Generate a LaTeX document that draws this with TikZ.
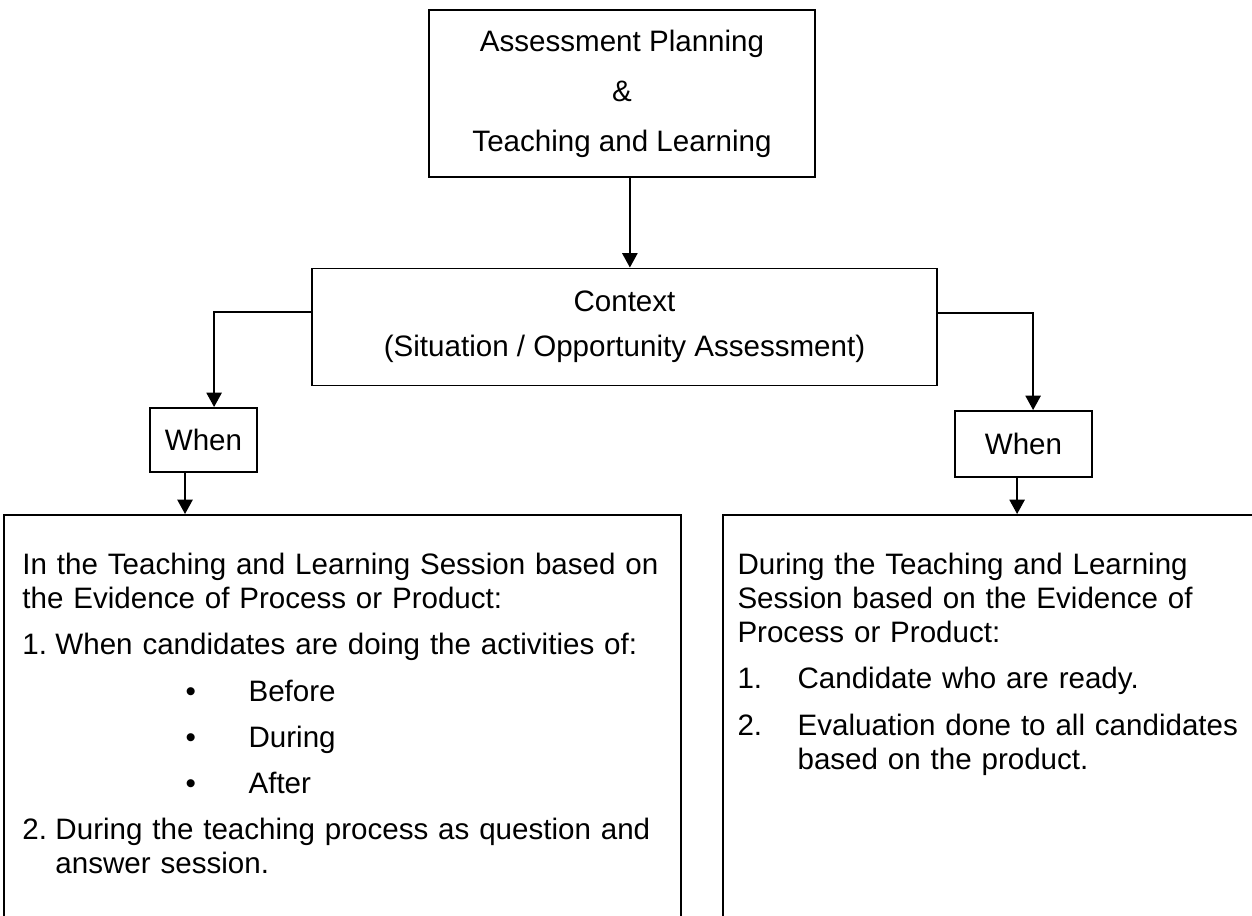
\documentclass[tikz,border=0pt]{standalone}
\usepackage{fontspec}
\setmainfont{Liberation Sans}
\usepackage{tikz}
\usetikzlibrary{arrows.meta}

\newcommand{\listnum}[2]{\par\hangindent=#1\hangafter=1\makebox[#1][l]{#2}}
\newcommand{\listdot}[1]{\par\hspace*{66.2pt}\makebox[25.6pt][l]{\textbullet}#1}

\begin{document}
\begin{tikzpicture}[x=0.406pt, y=-0.406pt,
    box/.style={draw, line width=0.8pt, rectangle, inner sep=0pt, align=center,
      font=\fontsize{12}{20.3}\selectfont},
    panel/.style={draw, line width=0.8pt, rectangle, inner sep=0pt, anchor=north west},
    txt/.style={anchor=north west, inner sep=0pt, align=left,
      font=\fontsize{12}{13.8}\selectfont},
    arr/.style={line width=0.6pt, -{Triangle[width=6.2pt,length=5.8pt]}}]
  \clip (0,0) rectangle (1252,916);

  \node[box, minimum width=157.1pt, minimum height=67.8pt] (plan) at (622,93.5)
    {Assessment Planning\\ \&\\ Teaching and Learning};
  \node[box, minimum width=253.8pt, minimum height=47.5pt,
    font=\fontsize{12}{18.3}\selectfont] (context) at (624.5,327)
    {Context\\ (Situation / Opportunity Assessment)};
  \node[box, minimum width=43.4pt, minimum height=26pt] (whenL) at (203.5,440) {When};
  \node[box, minimum width=55.6pt, minimum height=26.8pt] (whenR) at (1023.5,444) {When};

  \node[panel, minimum width=274.9pt, minimum height=170.5pt] (leftpanel) at (3,514) {};
  \node[panel, minimum width=219.2pt, minimum height=170.5pt] (rightpanel) at (722,514) {};

  \node[txt, text width=270pt] (leftText) at (22,553) {\parindent=0pt\parskip=4.9pt
    In the Teaching and Learning Session based on\newline the Evidence of Process or Product:
    \listnum{13.4pt}{1.}When candidates are doing the activities of:
    \listdot{Before}
    \listdot{During}
    \listdot{After}
    \listnum{13.4pt}{2.}During the teaching process as question and\newline answer session.\par};
  \node[txt, text width=210pt] (rightText) at (737,553) {\parindent=0pt\parskip=4.9pt
    During the Teaching and Learning\newline Session based on the Evidence of\newline Process or Product:
    \listnum{24.4pt}{1.}Candidate who are ready.
    \listnum{24.4pt}{2.}Evaluation done to all candidates\newline based on the product.\par};

  \draw[arr] ([xshift=3.2pt]plan.south) -- ([xshift=3.2pt]plan.south |- context.north);
  \draw[arr] ([yshift=6.1pt]context.west) -| ([xshift=4.3pt]whenL.north);
  \draw[arr] ([yshift=5.7pt]context.east) -| ([xshift=3.9pt]whenR.north);
  \draw[arr] ([xshift=-7.5pt]whenL.south) -- ([xshift=-7.5pt]whenL.south |- leftpanel.north);
  \draw[arr] ([xshift=-2.6pt]whenR.south) -- ([xshift=-2.6pt]whenR.south |- rightpanel.north);
\end{tikzpicture}
\end{document}
